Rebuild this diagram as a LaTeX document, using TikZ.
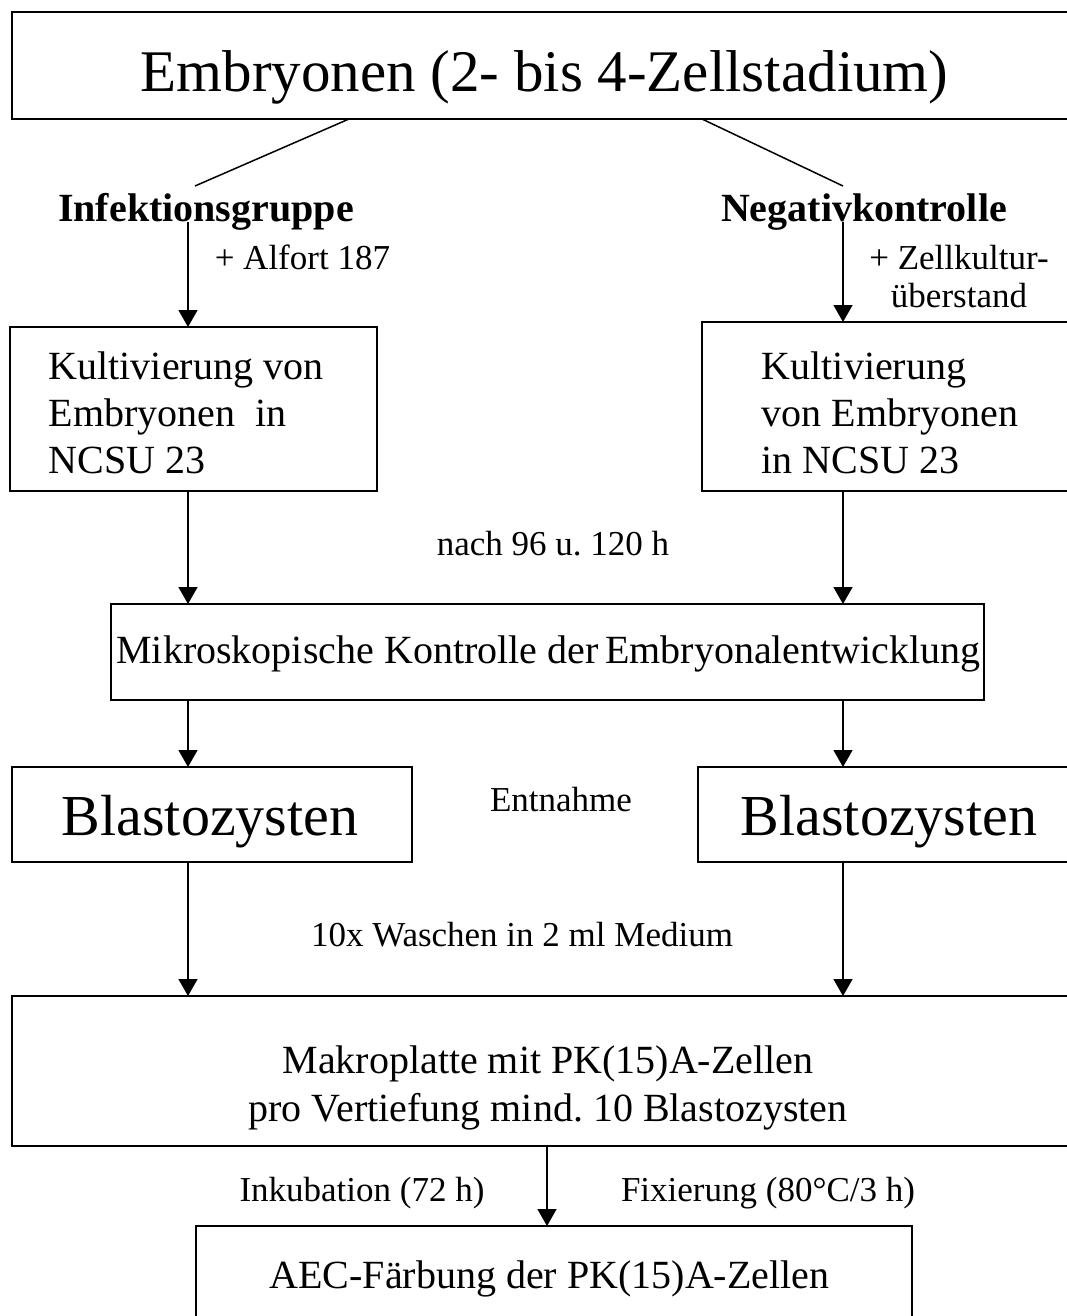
\documentclass[tikz,border=0pt]{standalone}
\usepackage{fontspec}
\setmainfont{Liberation Serif}
\usetikzlibrary{arrows.meta}

\newcommand{\fontTitle}{\fontsize{59pt}{64pt}\selectfont}
\newcommand{\fontBlast}{\fontsize{58pt}{64pt}\selectfont}
\newcommand{\fontBox}{\fontsize{40pt}{47pt}\selectfont}
\newcommand{\fontMakro}{\fontsize{40pt}{48pt}\selectfont}
\newcommand{\fontBoxBold}{\bfseries\fontsize{40pt}{47pt}\selectfont}
\newcommand{\fontLabel}{\fontsize{35pt}{38pt}\selectfont}

\begin{document}
\begin{tikzpicture}[>={Triangle[length=17pt,width=19pt]}, line width=1.5pt, x=1pt, y=-1pt,
	box/.style 2 args={draw, line width=1.8pt, minimum width=#1, minimum height=#2, inner sep=0pt, outer sep=0pt},
	txt/.style={anchor=base, inner sep=0pt}]
	\useasboundingbox (0,0) rectangle (1066,1316);
	
	% ------------------ Spalten der Pfeile ------------------
	\coordinate (colL) at (188,0);
	\coordinate (colR) at (843,0);
	\coordinate (colM) at (547,0);
	
	% ------------------ Ebene 0: Embryonen ------------------
	\node[box={1063pt}{107pt}] (start) at (543.5,65.5) {};
	\node[txt, font=\fontTitle] (startText) at (544.5,92) {Embryonen (2- bis 4-Zellstadium)};
	
	% Aufteilung in zwei Gruppen
	\node[txt, font=\fontBoxBold] (infekt) at (206,222) {Infektionsgruppe};
	\node[txt, font=\fontBoxBold] (negativ) at (864,222) {Negativkontrolle};
	\coordinate (splitL) at (195,186);
	\coordinate (splitR) at (843,186);
	\draw (start.south -| 349,0) -- (splitL);
	\draw (start.south -| 702,0) -- (splitR);
	
	% ------------------ Ebene 1: Kultivierung ------------------
	\node[box={367pt}{164pt}] (kultL) at (193.5,409) {};
	\node[box={373pt}{169pt}] (kultR) at (888.5,406.5) {};
	% base = letzte Zeile
	\node[txt, anchor=base west, align=left, font=\fontBox] (kultLText) at (48,473) {Kultivierung von\\Embryonen~ in\\NCSU 23};
	\node[txt, anchor=base west, align=left, font=\fontBox] (kultRText) at (761,473) {Kultivierung\\von Embryonen\\in NCSU 23};
	
	\node[txt, anchor=base west, font=\fontLabel] (alfort) at (214,269) {+ Alfort 187};
	\node[txt, align=center, font=\fontLabel] (zellkultur) at (959,307) {+ Zellkultur-\\überstand};
	\draw[->] (infekt.base -| colL) -- (kultL.north -| colL);
	\draw[->] (negativ.base -| colR) -- (kultR.north -| colR);
	
	% ------------------ Ebene 2: Kontrolle ------------------
	\node[box={873pt}{96pt}] (mik) at (547.5,652) {};
	\node[txt, font=\fontBox] (mikText) at (548.5,663) {Mikroskopische Kontrolle der\,Embryonalentwicklung};
	\node[txt, font=\fontLabel] (nach) at (553,555) {nach 96 u.\ 120 h};
	\draw[->] (kultL.south -| colL) -- (mik.north -| colL);
	\draw[->] (kultR.south -| colR) -- (mik.north -| colR);
	
	% ------------------ Ebene 3: Blastozysten ------------------
	\node[box={400pt}{95pt}] (blastL) at (212,814.5) {};
	\node[box={377pt}{95pt}] (blastR) at (886.5,814.5) {};
	\node[txt, font=\fontBlast] (blastLText) at (210,835) {Blastozysten};
	\node[txt, font=\fontBlast] (blastRText) at (889,835) {Blastozysten};
	\node[txt, font=\fontLabel] (entnahme) at (561,811) {Entnahme};
	\draw[->] (mik.south -| colL) -- (blastL.north -| colL);
	\draw[->] (mik.south -| colR) -- (blastR.north -| colR);
	
	% ------------------ Ebene 4: Makroplatte ------------------
	\node[box={1063pt}{150pt}] (makro) at (543.5,1071) {};
	\node[txt, align=center, font=\fontMakro] (makroText) at (548,1121) {Makroplatte mit PK(15)A-Zellen\\pro Vertiefung mind.\ 10 Blastozysten};
	\node[txt, font=\fontLabel] (waschen) at (522,946) {10x Waschen in 2 ml Medium};
	\draw[->] (blastL.south -| colL) -- (makro.north -| colL);
	\draw[->] (blastR.south -| colR) -- (makro.north -| colR);
	
	% ------------------ Ebene 5: Faerbung ------------------
	\node[box={716pt}{104pt}] (aec) at (554,1278) {};
	\node[txt, font=\fontBox] (aecText) at (549.5,1288) {AEC-Färbung der PK(15)A-Zellen};
	\node[txt, font=\fontLabel] (inkubation) at (362,1201) {Inkubation (72 h)};
	\node[txt, font=\fontLabel] (fixierung) at (768,1201) {Fixierung (80°C/3 h)};
	\draw[->] (makro.south -| colM) -- (aec.north -| colM);
\end{tikzpicture}
\end{document}
